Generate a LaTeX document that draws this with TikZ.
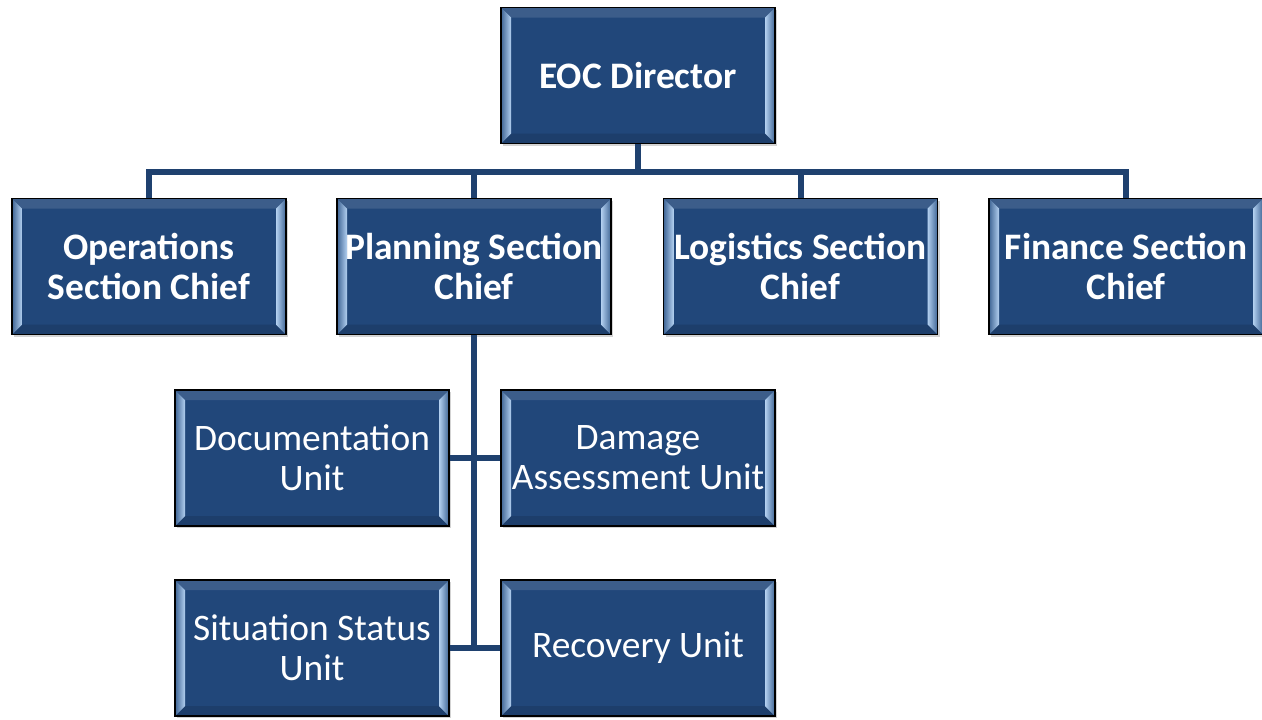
\documentclass[tikz,border=0pt]{standalone}
\usepackage{fontspec}
\setmainfont{Carlito}
\usetikzlibrary{shadows}

\definecolor{boxblue}{HTML}{21477A}
\definecolor{linkblue}{HTML}{1F416F}
\definecolor{bevellight}{HTML}{B3D0F0}
\definecolor{bevelmid}{HTML}{3F6595}

\tikzset{
  bevel/.style={path picture={
    \fill[boxblue!88!white]
      (path picture bounding box.north west)
      -- ([shift={(5pt,-5pt)}]path picture bounding box.north west)
      -- ([shift={(-5pt,-5pt)}]path picture bounding box.north east)
      -- (path picture bounding box.north east) -- cycle;
    \fill[boxblue!88!black]
      (path picture bounding box.south west)
      -- ([shift={(5pt,5pt)}]path picture bounding box.south west)
      -- ([shift={(-5pt,5pt)}]path picture bounding box.south east)
      -- (path picture bounding box.south east) -- cycle;
    \fill[left color=bevelmid,right color=bevellight]
      (path picture bounding box.north west)
      -- ([shift={(5pt,-5pt)}]path picture bounding box.north west)
      -- ([shift={(5pt,5pt)}]path picture bounding box.south west)
      -- (path picture bounding box.south west) -- cycle;
    \fill[left color=bevellight,right color=bevelmid]
      (path picture bounding box.north east)
      -- ([shift={(-5pt,-5pt)}]path picture bounding box.north east)
      -- ([shift={(-5pt,5pt)}]path picture bounding box.south east)
      -- (path picture bounding box.south east) -- cycle;
  }},
  orgbox/.style={draw=black,line width=0.6pt,fill=boxblue,bevel,
    drop shadow={shadow xshift=1.2pt,shadow yshift=-1.2pt,opacity=0.35},
    minimum width=137pt,minimum height=68pt,inner sep=0pt,
    align=center,text=white,font=\fontsize{18.7}{20}\selectfont},
  chief/.style={orgbox,font=\bfseries\fontsize{18.7}{20}\selectfont},
  link/.style={draw=linkblue,line width=3pt}
}

\begin{document}
\begin{tikzpicture}[x=0.5pt,y=-0.5pt]
\useasboundingbox (0,0) rectangle (1262,719);

% top level
\node[chief] (dir) at (638,75.5) {EOC Director};
\coordinate (bus) at (638,172);

% sections
\node[chief] (ops)  at (149,266.5)  {Operations\\Section Chief};
\node[chief] (plan) at (474,266.5)  {Planning Section\\Chief};
\node[chief] (log)  at (800.5,266.5){Logistics Section\\Chief};
\node[chief] (fin)  at (1126,266.5) {Finance Section\\Chief};

% planning units
\node[orgbox] (doc) at (312,458) {Documentation\\Unit};
\node[orgbox] (dam) at (638,458) {Damage\\Assessment Unit};
\node[orgbox] (sit) at (312,648) {Situation Status\\Unit};
\node[orgbox] (rec) at (638,648) {\raisebox{-2.5pt}{Recovery Unit}};

% connectors
\draw[link] (dir.south) -- (dir.south |- bus);
\draw[link] (ops.north) |- (fin.north |- bus) -- (fin.north);
\draw[link] (plan.north) -- (plan.north |- bus);
\draw[link] (log.north) -- (log.north |- bus);
\draw[link] (plan.south) -- (plan.south |- rec.west);
\draw[link] (doc.east) -- (dam.west);
\draw[link] (sit.east) -- (rec.west);
\end{tikzpicture}
\end{document}
